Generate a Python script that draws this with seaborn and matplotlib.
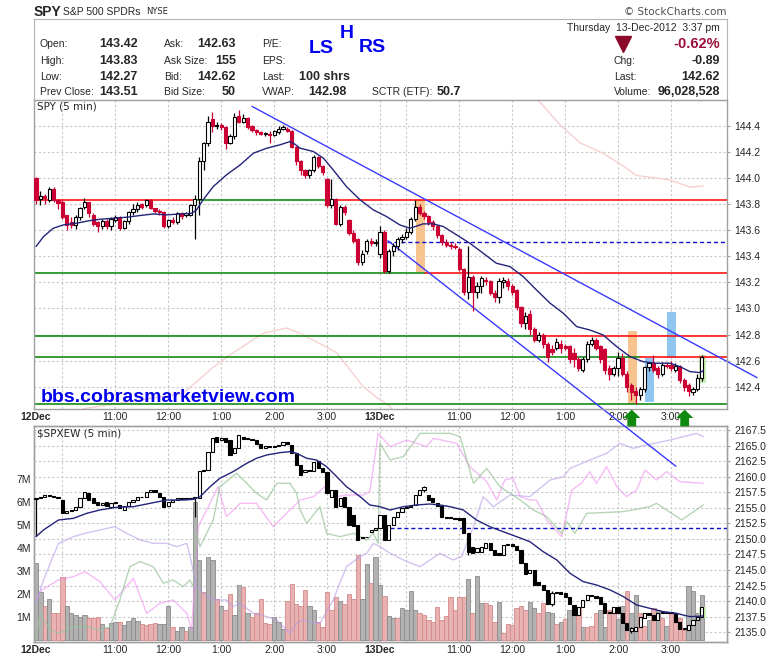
import numpy as np
import matplotlib
matplotlib.use("Agg")
import matplotlib.pyplot as plt
from matplotlib.patches import Rectangle, Polygon
from matplotlib.transforms import blended_transform_factory
import seaborn as sns

W, H = 780, 659

# ---------------- SPY 5-min bars, 12 Dec (0-77) + 13 Dec (78-151) ----------------
spy_open = [144.00,143.84,143.86,143.83,143.92,143.83, 143.82,143.72,143.66,143.64,143.70,143.78,
            143.82,143.72,143.66,143.63,143.67,143.63, 143.68,143.70,143.62,143.67,143.74,143.76,
            143.80,143.79,143.83,143.77,143.75,143.74, 143.63,143.68,143.66,143.73,143.72,143.72,
            143.79,143.84,144.13,144.27,144.45,144.40, 144.41,144.39,144.27,144.32,144.48,144.43,
            144.46,144.40,144.37,144.35,144.34,144.34, 144.33,144.35,144.38,144.38,144.36,144.24,
            144.13,144.06,144.02,144.06,144.16,144.09, 143.99,143.79,143.84,143.65,143.78,143.68,
            143.58,143.53,143.36,143.44,143.52,143.50,
            143.42,143.59,143.29,143.44,143.48,143.53, 143.55,143.59,143.69,143.78,143.73,143.71,
            143.66,143.63,143.56,143.51,143.49,143.48, 143.46,143.30,143.13,143.24,143.13,143.17,
            143.22,143.21,143.12,143.09,143.20,143.21, 143.17,143.14,143.01,142.89,142.96,142.84,
            142.76,142.80,142.73,142.69,142.70,142.73, 142.71,142.71,142.66,142.61,142.53,142.61,
            142.73,142.76,142.71,142.69,142.54,142.50, 142.54,142.62,142.50,142.41,142.37,142.34,
            142.38,142.55,142.58,142.54,142.50,142.57, 142.57,142.53,142.56,142.45,142.41,142.36,
            142.38,142.47]
spy_high = [144.01,143.90,143.88,143.93,143.93,143.84, 143.83,143.72,143.70,143.72,143.78,143.85,
            143.82,143.73,143.67,143.69,143.69,143.70, 143.72,143.71,143.68,143.75,143.80,143.82,
            143.81,143.84,143.84,143.77,143.76,143.75, 143.69,143.70,143.74,143.74,143.74,143.80,
            143.87,144.16,144.28,144.48,144.51,144.43, 144.42,144.40,144.34,144.50,144.52,144.49,
            144.47,144.41,144.38,144.36,144.35,144.36, 144.37,144.40,144.41,144.39,144.37,144.25,
            144.14,144.07,144.07,144.18,144.17,144.10, 144.00,143.99,143.85,143.79,143.79,143.69,
            143.60,143.54,143.45,143.53,143.54,143.53,
            143.63,143.60,143.46,143.50,143.55,143.57, 143.62,143.70,143.83,143.80,143.75,143.72,
            143.68,143.64,143.57,143.53,143.51,143.50, 143.47,143.31,143.48,143.26,143.20,143.25,
            143.24,143.22,143.14,143.23,143.24,143.23, 143.19,143.15,143.02,142.97,142.99,142.86,
            142.82,142.81,142.74,142.72,142.77,142.76, 142.73,142.72,142.70,142.63,142.63,142.75,
            142.78,142.77,142.72,142.70,142.57,142.56, 142.67,142.66,142.52,142.43,142.40,142.40,
            142.56,142.59,142.64,142.56,142.59,142.59, 142.60,142.58,142.57,142.47,142.43,142.40,
            142.50,142.64]
spy_low = [143.80,143.79,143.80,143.82,143.82,143.76, 143.69,143.60,143.62,143.61,143.68,143.76,
           143.70,143.63,143.59,143.61,143.61,143.60, 143.66,143.60,143.61,143.65,143.72,143.74,
           143.76,143.78,143.76,143.73,143.72,143.62, 143.62,143.65,143.65,143.69,143.70,143.71,
           143.53,143.72,144.06,144.25,144.35,144.38, 144.37,144.22,144.26,144.30,144.42,144.42,
           144.38,144.35,144.33,144.33,144.32,144.27, 144.32,144.34,144.37,144.35,144.23,144.10,
           144.02,144.00,144.00,144.05,144.08,144.02, 143.78,143.77,143.64,143.63,143.72,143.56,
           143.50,143.33,143.33,143.42,143.48,143.48,
           143.39,143.27,143.27,143.40,143.45,143.50, 143.53,143.57,143.67,143.72,143.69,143.64,
           143.60,143.54,143.49,143.47,143.46,143.46, 143.29,143.10,143.07,142.98,143.08,143.12,
           143.18,143.10,143.05,143.04,143.16,143.14, 143.10,142.99,142.86,142.84,142.80,142.74,
           142.74,142.70,142.59,142.64,142.68,142.66, 142.68,142.58,142.55,142.52,142.51,142.59,
           142.71,142.68,142.58,142.50,142.45,142.48, 142.48,142.48,142.36,142.30,142.27,142.30,
           142.36,142.52,142.51,142.47,142.48,142.54, 142.52,142.51,142.43,142.37,142.33,142.34,
           142.37,142.44]
spy_close = [143.83,143.86,143.85,143.92,143.83,143.81, 143.70,143.64,143.64,143.70,143.77,143.82,
             143.73,143.65,143.63,143.67,143.63,143.69, 143.70,143.62,143.67,143.74,143.76,143.79,
             143.78,143.83,143.77,143.75,143.74,143.63, 143.68,143.66,143.73,143.71,143.73,143.79,
             143.84,144.13,144.27,144.43,144.40,144.41, 144.39,144.27,144.32,144.47,144.43,144.46,
             144.39,144.37,144.35,144.34,144.34,144.33, 144.36,144.38,144.39,144.36,144.24,144.13,
             144.06,144.02,144.06,144.16,144.09,144.05, 143.79,143.84,143.65,143.78,143.74,143.58,
             143.52,143.36,143.42,143.52,143.50,143.51,
             143.59,143.29,143.44,143.48,143.53,143.55, 143.59,143.69,143.78,143.73,143.71,143.66,
             143.63,143.56,143.51,143.49,143.48,143.47, 143.30,143.13,143.24,143.13,143.17,143.23,
             143.21,143.12,143.09,143.21,143.22,143.17, 143.13,143.01,142.89,142.94,142.84,142.76,
             142.80,142.73,142.63,142.67,142.74,142.70, 142.70,142.61,142.61,142.54,142.61,142.73,
             142.76,142.70,142.61,142.53,142.50,142.54, 142.62,142.50,142.40,142.36,142.34,142.38,
             142.55,142.58,142.53,142.50,142.57,142.56, 142.54,142.56,142.45,142.40,142.37,142.38,
             142.47,142.63]

# ---------------- $SPXEW 5-min bars ----------------
spx_open = [2156.40,2156.52,2156.79,2157.06,2156.90,2156.79, 2156.25,2154.11,2154.50,2154.65,2155.18,2156.52,
            2157.33,2156.52,2155.99,2155.45,2155.99,2155.18, 2155.72,2155.45,2154.65,2155.29,2155.99,2156.25,
            2156.68,2156.79,2157.59,2157.86,2157.33,2156.79, 2155.29,2155.99,2156.25,2156.40,2156.52,2156.36,
            2156.52,2156.52,2160.97,2161.07,2164.02,2166.43, 2165.89,2166.16,2165.89,2163.75,2164.55,2166.43,
            2166.00,2166.10,2165.89,2165.25,2164.66,2164.93, 2164.80,2164.93,2165.09,2165.50,2165.09,2163.75,
            2161.88,2160.81,2161.07,2160.97,2162.57,2161.34, 2160.81,2156.79,2157.86,2155.29,2156.79,2155.18,
            2153.85,2152.24,2150.10,2150.36,2151.17,2151.44,
            2151.70,2153.85,2149.83,2152.24,2153.58,2154.38, 2154.92,2155.18,2155.45,2157.06,2157.86,2157.06,
            2156.52,2155.72,2155.29,2153.58,2153.50,2153.31, 2153.31,2153.31,2150.90,2148.76,2147.96,2147.96,
            2148.49,2149.29,2148.22,2147.79,2147.42,2149.03, 2149.19,2148.87,2148.22,2146.08,2144.47,2145.01,
            2143.14,2142.60,2141.80,2139.55,2141.37,2141.53, 2141.37,2140.73,2139.39,2137.78,2139.01,2140.19,
            2140.99,2140.83,2140.62,2139.65,2138.05,2138.16, 2139.12,2138.05,2136.44,2135.26,2135.26,2135.91,
            2137.25,2138.05,2137.78,2136.98,2138.05,2138.32, 2138.26,2138.05,2136.71,2135.48,2135.37,2136.17,
            2136.98,2137.51]
spx_close = [2156.52,2156.79,2157.06,2156.90,2156.79,2156.52, 2154.11,2154.50,2154.65,2155.18,2156.52,2157.59,
             2156.25,2155.72,2155.45,2155.83,2155.29,2155.72, 2155.99,2154.92,2155.29,2155.99,2156.25,2156.68,
             2156.79,2157.59,2157.86,2157.46,2156.79,2155.18, 2155.99,2156.25,2156.52,2156.52,2156.36,2156.52,
             2156.68,2160.97,2161.07,2164.02,2166.16,2165.63, 2166.16,2165.63,2163.48,2164.55,2166.70,2166.00,
             2166.16,2165.89,2165.25,2164.66,2164.93,2164.80, 2164.93,2165.09,2165.50,2165.25,2163.75,2161.88,
             2160.27,2161.07,2160.97,2162.41,2161.34,2160.81, 2157.33,2157.86,2155.18,2156.52,2155.18,2152.24,
             2152.08,2149.83,2150.36,2150.26,2151.44,2151.70,
             2153.85,2149.83,2152.24,2153.58,2154.38,2154.92, 2155.18,2155.29,2157.06,2157.86,2158.30,2156.25,
             2155.99,2155.29,2153.58,2153.31,2153.31,2153.15, 2153.04,2150.90,2147.96,2147.79,2148.49,2148.76,
             2149.29,2148.22,2147.42,2147.42,2149.03,2149.19, 2148.87,2148.22,2146.08,2144.37,2145.01,2142.60,
             2142.60,2141.80,2139.55,2141.37,2141.53,2141.15, 2140.73,2139.55,2137.78,2139.01,2140.19,2140.99,
             2140.83,2140.46,2139.55,2138.05,2138.32,2139.01, 2138.05,2136.44,2135.37,2135.64,2135.91,2137.51,
             2138.05,2137.78,2136.98,2138.05,2138.32,2138.16, 2138.05,2136.71,2135.48,2135.64,2136.17,2136.98,
             2137.51,2139.01]
spx_wick_idx = [0, 36, 88, 98, 117, 135]
spx_wick_lo = [2150.40, 2153.60, 2157.60, 2147.40, 2139.20, 2134.90]
spx_wick_hi = [2156.60, 2156.80, 2158.50, 2151.00, 2141.60, 2135.90]

# ---------------- volume (millions), G = up bar, R = down bar ----------------
vol = [3.35,2.1,1.5,1.8,1.17,1.2, 2.75,1.5,1.2,1.1,1.0,1.1, 0.95,0.95,1.0,0.7,0.55,0.75,
       0.8,0.8,0.65,0.85,0.95,0.85, 0.7,0.65,0.7,0.75,0.7,0.7, 1.5,0.6,0.4,0.6,0.4,0.6,
       6.0,3.5,2.1,3.6,3.5,1.8, 1.5,1.3,2.0,1.1,2.4,2.3, 1.2,1.0,1.2,1.8,0.75,0.7,
       1.0,0.8,0.5,1.7,2.45,1.6, 1.5,2.2,1.5,1.3,0.8,0.6, 2.1,1.3,1.9,1.7,1.6,2.0,
       1.8,3.7,1.8,3.3,2.5,3.6,
       2.4,1.91,1.04,0.97,0.95,1.40, 1.30,2.13,1.30,1.19,1.12,0.90, 0.78,1.44,0.90,1.05,1.88,1.30,
       1.88,1.88,2.66,1.19,2.81,1.62, 1.62,1.55,0.78,1.65,0.32,0.72, 0.68,1.40,1.47,1.30,1.65,1.40,
       1.19,1.62,1.25,1.19,0.72,0.78, 0.93,1.30,1.47,1.40,0.58,0.58, 0.64,1.19,1.33,0.58,1.30,1.19,
       0.93,1.47,2.13,1.19,1.98,1.19, 0.61,0.90,1.40,1.30,0.96,0.61, 1.19,0.96,0.96,0.46,2.34,2.13,
       1.19,1.98]
vol_dir = ("GGRGRR" "RGGGGG" "RRRGRG" "GRGGGG" "RRRRGG" "GRGGRG" "GGRGGR" "GRRGGR" "GRRRRR"
           "GGGRRR" "RRGGRR" "RRRGRR" "RRGGRG"
           "GRGGRG" "GGGRRR" "RRRRRR" "RRGRGG" "RRRGRR" "RRRRGG" "RRGGRG" "RGGRGR" "RRGGRR"
           "GGRGGR" "RGRGRG" "RRRRGG" "GG")

# ---------------- overlays (bar index, value) ----------------
ma1_x = [0, 1.7, 3.9, 6.2, 9.2, 12.2, 14.5, 17.5, 20.6, 23.6, 26.6, 29.6, 32.7, 35.3, 36.4, 37.9, 40.2,
         43.2, 46.3, 49.3, 52.3, 55.3, 57.6, 58.4, 59.9, 62.9, 65.2, 67.4, 70.4, 73.5, 76.5, 79.5,
         82.5, 84.8, 87.8, 90.1, 92.4, 95.4, 98.4, 101.4, 104.4, 107.5, 110.5, 113.5, 116.6, 119.6,
         122.6, 125.6, 128.6, 131.7, 134.7, 137.7, 140.7, 143.8, 146.0, 148.3, 150.6, 151.3]
ma1_y = [143.475, 143.551, 143.615, 143.641, 143.654, 143.674, 143.684, 143.692, 143.700, 143.713,
         143.725, 143.718, 143.725, 143.730, 143.756, 143.833, 143.935, 144.025, 144.101, 144.191,
         144.229, 144.255, 144.280, 144.268, 144.229, 144.204, 144.152, 144.063, 143.935, 143.833,
         143.756, 143.705, 143.641, 143.615, 143.649, 143.649, 143.628, 143.564, 143.500, 143.424,
         143.347, 143.321, 143.244, 143.142, 143.040, 142.963, 142.861, 142.835, 142.797, 142.707,
         142.631, 142.592, 142.580, 142.580, 142.554, 142.516, 142.508, 142.523]
ma2_x = [0, 1.7, 5.1, 8.5, 11.5, 14.5, 18.3, 22.1, 25.9, 29.6, 33.4, 35.7, 37.2, 39.5, 41.7, 44.7, 47.8,
         50.0, 52.3, 55.3, 57.6, 59.1, 61.4, 63.6, 65.9, 68.2, 70.4, 73.5, 75.7, 78.0, 80.3, 83.3, 86.3,
         89.3, 91.6, 93.9, 96.9, 99.9, 102.9, 105.9, 109.0, 112.0, 115.0, 118.1, 121.1, 124.1, 127.1,
         130.2, 133.2, 136.2, 139.2, 142.2, 145.2, 148.3, 151.3]
ma2_y = [2150.36, 2151.44, 2153.04, 2153.31, 2154.11, 2154.65, 2155.08, 2155.18, 2155.72, 2156.25,
         2156.25, 2156.36, 2156.79, 2158.40, 2159.74, 2160.81, 2162.15, 2162.95, 2163.48, 2163.86,
         2164.02, 2163.75, 2162.95, 2162.68, 2161.61, 2160.00, 2158.40, 2156.79, 2155.45, 2155.18,
         2154.65, 2155.18, 2155.45, 2155.61, 2155.45, 2155.18, 2154.65, 2153.04, 2151.97, 2151.17,
         2150.36, 2149.56, 2147.96, 2146.62, 2144.47, 2143.14, 2142.60, 2141.80, 2140.73, 2139.39,
         2138.85, 2138.32, 2138.05, 2137.51, 2137.62]
pink_x = [0, 1.3, 5.1, 8.5, 11.1, 14.5, 17.9, 22.1, 25.1, 28.1, 31.1, 34.2, 35.3, 36.8, 38.7, 41.3,
          43.2, 46.3, 50.0, 53.8, 56.8, 59.9, 62.9, 65.5, 67.4, 71.2, 74.2, 75.7, 77.6,
          80.3, 84.1, 88.6, 90.1, 95.4, 98.4, 102.2, 104.5, 106.3, 108.2, 109.8, 112.0, 113.5, 115.8,
          119.2, 121.5, 123.7, 125.6, 127.1, 129.4, 131.7, 133.9, 136.2, 138.1, 140.7, 143.0, 146.0, 151.3]
pink_y = [2140.19, 2141.80, 2143.40, 2143.94, 2144.74, 2143.14, 2140.19, 2143.67, 2138.05, 2139.65,
          2140.19, 2138.05, 2135.37, 2151.97, 2154.65, 2158.40, 2153.58, 2155.72, 2155.72, 2151.97,
          2154.11, 2156.25, 2156.79, 2158.40, 2156.79, 2157.06, 2157.06, 2157.59, 2166.96,
          2164.82, 2165.89, 2164.82, 2166.16, 2165.36, 2161.61, 2159.20, 2156.25, 2159.47, 2159.74,
          2156.79, 2156.25, 2156.25, 2153.04, 2150.36, 2157.86, 2158.93, 2160.81, 2158.93, 2161.61,
          2158.40, 2156.79, 2157.86, 2161.07, 2159.47, 2160.81, 2159.20, 2158.93]
lav_x = [0, 1.7, 5.1, 8.5, 11.1, 14.5, 17.9, 20.6, 23.6, 26.6, 29.6, 31.9, 34.2, 35.3, 36.4, 37.9,
         40.2, 43.2, 44.7, 46.3, 49.3, 52.3, 54.6, 56.1, 57.6, 59.1, 60.6, 62.9, 64.4, 67.4, 70.4,
         73.5, 75.0, 76.5, 78.0,
         80.3, 83.3, 87.1, 91.6, 94.6, 96.5, 99.2, 101.4, 103.7, 107.5, 112.0, 116.6, 119.6, 121.1,
         125.6, 129.4, 132.4, 135.4, 138.5, 143.8, 146.8, 149.8, 151.3]
lav_y = [2139.65, 2143.40, 2149.29, 2150.36, 2150.90, 2151.44, 2151.97, 2150.90, 2149.83, 2149.29,
         2149.29, 2148.76, 2149.29, 2146.08, 2142.33, 2141.26, 2140.19, 2140.19, 2139.12, 2139.65,
         2138.05, 2137.51, 2136.98, 2135.91, 2134.84, 2136.44, 2136.98, 2136.44, 2136.44, 2140.19,
         2145.54, 2147.15, 2147.69, 2149.29, 2148.76,
         2147.69, 2146.62, 2145.54, 2147.69, 2146.62, 2147.15, 2151.97, 2156.79, 2155.18, 2157.06,
         2156.79, 2159.47, 2160.00, 2161.34, 2162.68, 2163.75, 2165.36, 2164.55, 2165.09, 2165.89,
         2166.43, 2166.96, 2166.43]
grn_x = [0, 0.9, 3.2, 5.1, 8.5, 11.5, 14.5, 16.8, 19.0, 21.3, 23.6, 26.6, 28.9, 31.1, 33.4, 34.9,
         35.7, 36.4, 37.2, 40.2, 41.7, 45.5, 47.8, 50.0, 52.3, 54.6, 57.6, 59.1, 59.9, 61.4, 64.4,
         65.9, 68.9, 72.0, 75.0, 76.5, 77.6, 78.0,
         80.3, 83.3, 87.1, 90.1, 93.9, 96.2, 99.2, 102.2, 105.2, 109.8, 112.8, 115.8, 119.2, 120.4,
         122.2, 124.9, 133.2, 139.2, 140.7, 146.4, 151.3]
grn_y = [2133.80, 2138.05, 2135.37, 2134.84, 2135.91, 2135.91, 2135.37, 2135.91, 2140.19, 2145.54,
         2146.35, 2145.54, 2142.87, 2143.40, 2142.33, 2143.40, 2142.33, 2150.90, 2148.76, 2153.04,
         2158.40, 2160.54, 2158.93, 2157.33, 2156.25, 2158.93, 2158.93, 2157.33, 2154.65, 2152.51,
         2155.18, 2150.90, 2150.36, 2150.90, 2149.83, 2150.90, 2149.29, 2165.36,
         2162.68, 2163.22, 2166.96, 2166.96, 2166.96, 2166.43, 2158.93, 2161.34, 2158.40, 2156.25,
         2154.65, 2153.58, 2150.90, 2152.77, 2150.90, 2154.11, 2154.38, 2155.18, 2155.72, 2153.04,
         2155.45]
top_pink_a_x = [8.0, 10.7, 22.1, 33.4, 40.2, 44.7, 51.5, 56.8, 59.9, 64.4, 68.2, 71.2, 74.2, 77.2, 80.3, 82.0]
top_pink_a_y = [142.15, 142.23, 142.29, 142.35, 142.55, 142.66, 142.81, 142.85, 142.81, 142.73,
                142.66, 142.53, 142.40, 142.32, 142.25, 142.15]
top_pink_b_x = [111.0, 113.8, 119.1, 123.4, 128.6, 132.4, 136.2, 138.5, 143.0, 146.0, 148.3, 151.3]
top_pink_b_y = [144.75, 144.60, 144.40, 144.27, 144.19, 144.11, 144.02, 144.01, 143.99, 143.96, 143.93, 143.94]

# annotations drawn on the SPY panel
level_price = [143.83, 143.83, 143.83, 143.27, 143.27, 142.79, 142.79, 142.63, 142.63, 142.27]
level_from = [-0.45, 36.1, 66.0, -0.45, 88.2, -0.45, 114.3, -0.45, 137.0, -0.45]
level_to = [36.1, 66.0, 156.7, 88.2, 156.7, 114.3, 156.7, 137.0, 156.7, 156.7]
level_col = ['r', 'g', 'r', 'g', 'r', 'g', 'r', 'g', 'r', 'g']
trend_x = [[49.0, 163.5], [79.8, 145.1]]
trend_y = [[144.55, 142.47], [143.52, 141.79]]
prev_close_spy, prev_close_spx = 143.51, 2151.75
box_x = [87.2, 135.3, 139.1, 144.2]
box_lo = [143.28, 142.27, 142.28, 142.62]
box_hi = [143.83, 142.83, 142.62, 142.97]
box_col = ['#f7c48f', '#f7c48f', '#8fc6f1', '#8fc6f1']
arrow_idx = [135.1, 147.1]

grid_idx = [6, 18, 30, 42, 54, 66, 78, 84, 96, 108, 120, 132, 144]
tick_idx = [0, 18, 30, 42, 54, 66, 78, 96, 108, 120, 132, 144]
tick_lab = ['12Dec', '11:00', '12:00', '1:00', '2:00', '3:00', '13Dec', '11:00', '12:00', '1:00', '2:00', '3:00']
spy_ticks = [142.4, 142.6, 142.8, 143.0, 143.2, 143.4, 143.6, 143.8, 144.0, 144.2, 144.4]
spx_ticks = [2135.0, 2137.5, 2140.0, 2142.5, 2145.0, 2147.5, 2150.0, 2152.5, 2155.0, 2157.5, 2160.0, 2162.5, 2165.0, 2167.5]
vol_ticks = [1, 2, 3, 4, 5, 6, 7]

assert len(spy_open) == len(spy_close) == len(spy_high) == len(spy_low) == 152
assert len(spx_open) == len(spx_close) == len(vol) == len(vol_dir) == 152

sns.set_style("white")
plt.rcParams['font.family'] = ['Liberation Sans', 'DejaVu Sans']

GRID = dict(color='#c8c8c8', lw=0.8, ls=(0, (2, 2)), zorder=0.5)
RED, GREEN = '#ff0000', '#008000'
XMIN, XMAX = -0.45, 156.7


def box(l, t, r, b):
    return [l / W, 1 - b / H, (r - l) / W, (b - t) / H]


def draw_candles(ax, o, h, l, c, up_face, up_edge, dn_face, dn_edge, min_body, z=3):
    o, h, l, c = (np.asarray(v, dtype=float) for v in (o, h, l, c))
    x = np.arange(len(o))
    up = c >= o
    edge = np.where(up, up_edge, dn_edge)
    face = np.where(up, up_face, dn_face)
    ax.vlines(x, l, h, colors=edge, lw=0.9, zorder=z)
    body = np.maximum(np.abs(c - o), min_body)
    ax.bar(x, body, bottom=np.minimum(o, c), width=0.72, color=face,
           edgecolor=edge, linewidth=0.8, zorder=z + 0.1)


def style_panel(ax):
    for s in ax.spines.values():
        s.set_color('#a0a0a0')
        s.set_linewidth(1)
    ax.set_xlim(XMIN, XMAX)
    ax.set_xticks(tick_idx)
    ax.set_xticklabels(tick_lab)
    ax.tick_params(axis='x', length=0, labelsize=7.5, pad=2.5)
    for t in ax.get_xticklabels():
        if 'Dec' in t.get_text():
            t.set_fontweight('bold')


fig = plt.figure(figsize=(W / 100, H / 100), dpi=100)

# ---------------- header ----------------
fig.text(34 / W, 1 - 12 / H, 'SPY', fontsize=10, fontweight='bold', va='center')
fig.text(63 / W, 1 - 12 / H, 'S&P 500 SPDRs', fontsize=7.5, va='center')
fig.text(146 / W, 1 - 12 / H, 'NYSE', fontsize=6, va='center', family='DejaVu Sans')
fig.text(727 / W, 1 - 12 / H, '\u00a9 StockCharts.com', fontsize=7.5, va='center', ha='right',
         color='#505050', family='DejaVu Sans')

hdr = fig.add_axes(box(34, 19, 727, 100))
hdr.set_xlim(34, 727)
hdr.set_ylim(100, 19)
hdr.set_xticks([])
hdr.set_yticks([])
for s in hdr.spines.values():
    s.set_color('#b4b4b4')

rows = [44, 60.5, 76.5, 92]
lab_kw = dict(fontsize=7.5, va='center')
val_kw = dict(fontsize=9, fontweight='bold', va='center')
for y, a, b in zip(rows, ['Open:', 'High:', 'Low:', 'Prev Close:'], ['143.42', '143.83', '142.27', '143.51']):
    hdr.text(40, y, a, **lab_kw)
    hdr.text(138, y, b, ha='right', **val_kw)
for y, a, b in zip(rows, ['Ask:', 'Ask Size:', 'Bid:', 'Bid Size:'], ['142.63', '155', '142.62', '50']):
    hdr.text(164, y, a, **lab_kw)
    hdr.text(236, y, b, ha='right', **val_kw)
for y, a in zip(rows, ['P/E:', 'EPS:', 'Last:', 'VWAP:']):
    hdr.text(262, y, a, **lab_kw)
hdr.text(299, rows[2], '100 shrs', **val_kw)
hdr.text(347, rows[3], '142.98', ha='right', **val_kw)
hdr.text(372, rows[3], 'SCTR (ETF):', **lab_kw)
hdr.text(437, rows[3], '50.7', **val_kw)
hdr.text(309, 48.5, 'LS', fontsize=14, fontweight='bold', color='#0000ee', va='center')
hdr.text(340, 33, 'H', fontsize=14, fontweight='bold', color='#0000ee', va='center')
hdr.text(359, 47.5, 'RS', fontsize=14, fontweight='bold', color='#0000ee', va='center')
hdr.text(720, 28, 'Thursday  13-Dec-2012  3:37 pm', ha='right', **lab_kw)
hdr.plot([623], [43.5], marker='v', ms=11, color='#8b0a2a', ls='none')
hdr.text(720, 43.5, '-0.62%', ha='right', fontsize=10.5, fontweight='bold', color='#99103a', va='center')
for y, a, b in zip(rows[1:], ['Chg:', 'Last:', 'Volume:'], ['-0.89', '142.62', '96,028,528']):
    hdr.text(614, y, a, **lab_kw)
    hdr.text(720, y, b, ha='right', **val_kw)

# ---------------- SPY panel ----------------
ax1 = fig.add_axes(box(34, 100, 727, 409))
ax1.set_zorder(10)
ax1.patch.set_visible(False)
style_panel(ax1)
ax1.set_ylim(142.229, 144.599)
ax1.yaxis.tick_right()
ax1.set_yticks(spy_ticks)
ax1.set_yticklabels([f'{v:.1f}' for v in spy_ticks])
ax1.tick_params(axis='y', length=2.5, color='#a0a0a0', labelsize=7.5, pad=2.5)
for g in grid_idx:
    ax1.axvline(g, **GRID)
for p in spy_ticks:
    ax1.axhline(p, **GRID)

for cx, lo, hi, col in zip(box_x, box_lo, box_hi, box_col):
    ax1.add_patch(Rectangle((cx - 1.0, lo), 2.0, hi - lo, color=col, lw=0, zorder=1))
ax1.add_patch(Rectangle((150.4, 142.43), 1.6, 0.215, color='#c8f0b0', lw=0, zorder=1))

sns.lineplot(x=top_pink_a_x, y=top_pink_a_y, ax=ax1, color='#f7d0d0', lw=1.0, sort=False, zorder=1.5)
sns.lineplot(x=top_pink_b_x, y=top_pink_b_y, ax=ax1, color='#f7d0d0', lw=1.0, sort=False, zorder=1.5)

for p, a, b, c in zip(level_price, level_from, level_to, level_col):
    ax1.plot([a, b], [p, p], color=RED if c == 'r' else GREEN, lw=1.1, zorder=2)
ax1.plot([79.5, XMAX], [prev_close_spy, prev_close_spy], color='#1010c8', lw=1.0, ls=(0, (3, 2)), zorder=2)
for tx, ty in zip(trend_x, trend_y):
    ax1.plot(tx, ty, color='#3a3aff', lw=1.0, zorder=2.5, clip_on=False)

draw_candles(ax1, spy_open, spy_high, spy_low, spy_close,
             'white', 'black', '#cc0033', '#cc0033', 0.006)
sns.lineplot(x=ma1_x, y=ma1_y, ax=ax1, color='#24247a', lw=1.0, sort=False, zorder=4)

ax1.text(0.004, 0.995, 'SPY (5 min)', transform=ax1.transAxes, va='top', ha='left',
         fontsize=7.5, family='DejaVu Sans', zorder=6)
fig.text(41 / W, 1 - 401.5 / H, 'bbs.cobrasmarketview.com', fontsize=14, fontweight='bold',
         color='#0000ee', va='baseline', zorder=20)

trans = blended_transform_factory(ax1.transData, ax1.transAxes)
for xi in arrow_idx:
    pts = [(xi, -0.002), (xi + 1.95, -0.029), (xi + 1.0, -0.029), (xi + 1.0, -0.056),
           (xi - 1.0, -0.056), (xi - 1.0, -0.029), (xi - 1.95, -0.029)]
    ax1.add_patch(Polygon(pts, closed=True, transform=trans, clip_on=False,
                          facecolor='#0f8a0f', edgecolor='none', zorder=6))

# ---------------- $SPXEW panel (volume on the left, price on the right) ----------------
ax2 = fig.add_axes(box(34, 426, 727, 642))
style_panel(ax2)
ax2.set_ylim(-0.07, 9.30)
ax2.set_yticks(vol_ticks)
ax2.set_yticklabels([f'{v}M' for v in vol_ticks])
ax2.tick_params(axis='y', length=0, labelsize=7.5, pad=2)
axp = ax2.twinx()
style_panel(axp)
axp.set_ylim(2133.44, 2168.14)
axp.set_yticks(spx_ticks)
axp.set_yticklabels([f'{v:.1f}' for v in spx_ticks])
axp.tick_params(axis='y', length=2.5, color='#a0a0a0', labelsize=7.5, pad=2.5)
axp.tick_params(axis='x', labelbottom=False)
ax2.set_xticklabels(tick_lab)

for g in grid_idx:
    ax2.axvline(g, **GRID)
for p in spx_ticks:
    ax2.plot([XMIN, XMAX], [p, p], transform=axp.transData, **GRID)
ax2.set_ylim(-0.07, 9.30)

xs = np.arange(len(vol))
up_vol = np.array([d == 'G' for d in vol_dir])
ax2.bar(xs, vol, width=1.0, bottom=0,
        color=np.where(up_vol, '#b2b2b2', '#e8b2b2'),
        edgecolor=np.where(up_vol, '#8a8a8a', '#d48a8a'), linewidth=0.6, zorder=2)

axp.add_patch(Rectangle((150.4, 2137.25), 1.6, 1.87, color='#c8f0b0', lw=0, zorder=1))
sns.lineplot(x=pink_x, y=pink_y, ax=axp, color='#f090f0', lw=1.0, alpha=0.6, sort=False, zorder=1.5)
sns.lineplot(x=lav_x, y=lav_y, ax=axp, color='#b89ae8', lw=1.0, alpha=0.6, sort=False, zorder=1.5)
sns.lineplot(x=grn_x, y=grn_y, ax=axp, color='#98c498', lw=1.0, alpha=0.7, sort=False, zorder=1.5)
axp.plot([78.6, XMAX], [prev_close_spx, prev_close_spx], color='#1010c8', lw=1.0, ls=(0, (3, 2)), zorder=2)

spx_high = np.maximum(spx_open, spx_close)
spx_low = np.minimum(spx_open, spx_close)
for i, lo, hi in zip(spx_wick_idx, spx_wick_lo, spx_wick_hi):
    spx_low[i] = min(spx_low[i], lo)
    spx_high[i] = max(spx_high[i], hi)
draw_candles(axp, spx_open, spx_high, spx_low, spx_close, 'white', 'black', 'black', 'black', 0.08)
sns.lineplot(x=ma2_x, y=ma2_y, ax=axp, color='#24247a', lw=1.0, sort=False, zorder=4)
axp.set_ylim(2133.44, 2168.14)
axp.set_xlim(XMIN, XMAX)
axp.text(0.004, 0.99, '$SPXEW (5 min)', transform=axp.transAxes, va='top', ha='left',
         fontsize=7.5, family='DejaVu Sans', zorder=6)

fig.savefig('out.png', dpi=100)
